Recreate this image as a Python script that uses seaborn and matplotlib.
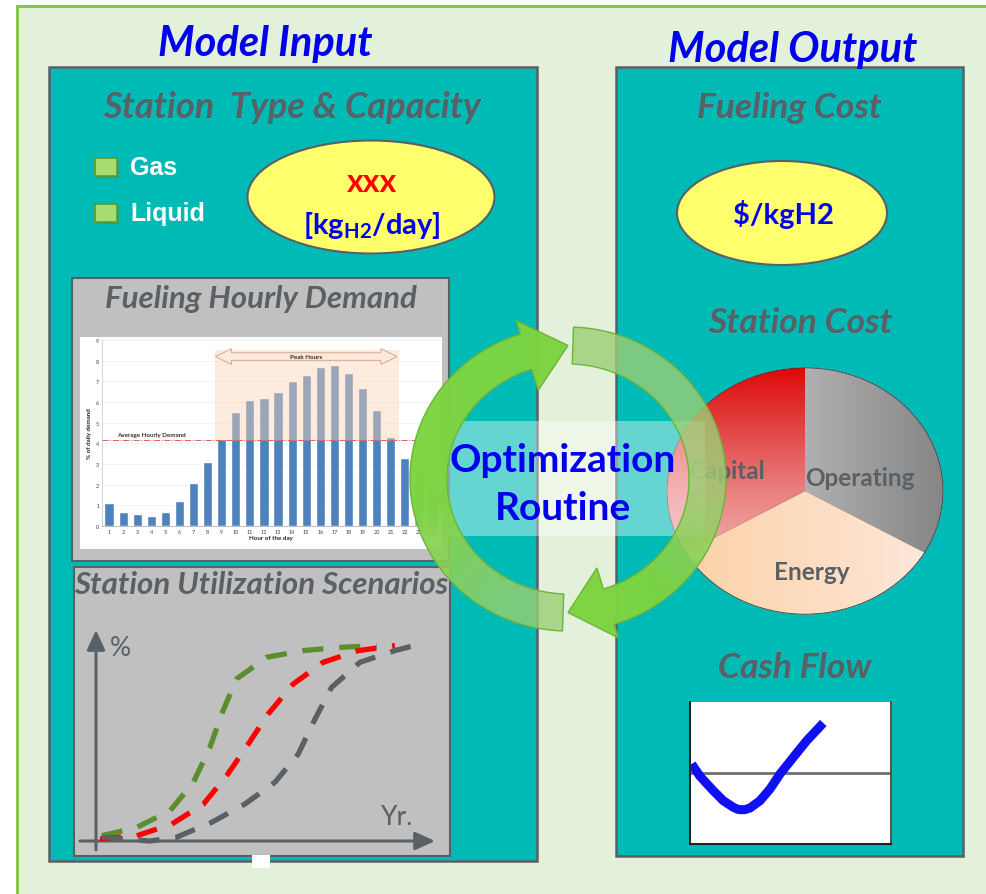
import numpy as np
import matplotlib
matplotlib.use('Agg')
import matplotlib.pyplot as plt
import matplotlib.patches as mpatches
from matplotlib.colors import LinearSegmentedColormap, to_rgb
import seaborn as sns

sns.set_style('white')
plt.rcParams['font.family'] = ['Lato', 'DejaVu Sans']
plt.rcParams['mathtext.default'] = 'regular'

# ---- data ----
hours = list(range(1, 25))
hourly_demand = [1.1, 0.7, 0.6, 0.5, 0.7, 1.2, 2.1, 3.1, 4.2, 5.5, 6.1, 6.2,
                 6.5, 7.0, 7.3, 7.7, 7.8, 7.4, 6.7, 5.6, 4.3, 3.3, 2.6, 1.8]
avg_demand = 4.17
peak_first, peak_last = 9, 21

# station utilization scenarios (% vs years, arbitrary 0-100 scales)
fast_x = [1.7, 12.1, 22.0, 28.9, 33.8, 37.3, 41.7, 50.6, 61.5, 72.9, 83.3]
fast_y = [2.5, 6.5, 14.5, 28.1, 44.8, 60.8, 77.5, 87.9, 91.1, 92.7, 93.5]
mid_x = [1.2, 12.1, 22.5, 31.9, 38.8, 45.2, 51.1, 58.5, 67.4, 77.8, 88.7]
mid_y = [1.0, 2.5, 8.1, 17.7, 31.3, 46.4, 60.8, 75.1, 85.5, 91.1, 93.5]
slow_x = [1.7, 16.0, 23.9, 34.3, 44.2, 53.1, 60.0, 65.0, 69.9, 78.3, 88.7, 93.7]
slow_y = [1.8, 0.0, 1.8, 8.9, 17.7, 28.1, 41.6, 58.4, 73.5, 85.5, 91.1, 93.2]

cost_parts = ['Operating', 'Energy', 'Capital']
cost_share = [1, 1, 1]

cash_x = [1.7, 10, 23.3, 33.3, 43.3, 48.3, 51.7, 55, 60, 70, 80, 90, 103.3, 116.7, 133.3]
cash_y = [9, -3.3, -17.7, -27.7, -34.3, -36.5, -36.7, -36.6, -35, -27.7, -16, -1, 15.7, 32.3, 50]

# ---- colours ----
BG = '#e4f1da'
TEAL = '#00bab5'
DARK = '#596066'
GRAY_BOX = '#c0c0c0'
BLUE = '#0000ee'
YELLOW = '#ffff6e'

W, H = 987, 895
fig = plt.figure(figsize=(W / 100, H / 100), dpi=100)
fig.patch.set_facecolor('white')


def px_axes(x0, y0, x1, y1, zorder=1):
    return fig.add_axes([x0 / W, 1 - y1 / H, (x1 - x0) / W, (y1 - y0) / H], zorder=zorder)


bg = fig.add_axes([0, 0, 1, 1], zorder=0)
bg.set_xlim(0, W)
bg.set_ylim(H, 0)
bg.axis('off')

bg.add_patch(mpatches.Rectangle((17, 7), 1000, 900, facecolor=BG, edgecolor='#7dc242', lw=2))
bg.add_patch(mpatches.Rectangle((49, 68), 488, 794, facecolor=TEAL, edgecolor=DARK, lw=1.8))
bg.add_patch(mpatches.Rectangle((616, 68), 347, 789, facecolor=TEAL, edgecolor=DARK, lw=1.8))

title_kw = dict(color=BLUE, fontweight='bold', fontstyle='italic', ha='center', va='center')
bg.text(265, 44, 'Model Input', fontsize=30, **title_kw)
bg.text(793, 50, 'Model Output', fontsize=30, **title_kw)

head_kw = dict(color=DARK, fontweight='bold', fontstyle='italic', ha='center', va='center')
bg.text(292, 107, 'Station  Type & Capacity', fontsize=26, **head_kw)
bg.text(789, 108, 'Fueling Cost', fontsize=25.5, **head_kw)
bg.text(800, 323, 'Station Cost', fontsize=25.5, **head_kw)
bg.text(795, 668, 'Cash Flow', fontsize=25.5, **head_kw)

# station type options
for yy, lab in [(168, 'Gas'), (214, 'Liquid')]:
    bg.add_patch(mpatches.Rectangle((97, yy - 7), 22, 18, facecolor='#3f7f3a', alpha=0.35, lw=0))
    bg.add_patch(mpatches.Rectangle((95, yy - 9), 22, 18, facecolor='#a6dd72', edgecolor='#5e9a2e', lw=1.2))
    bg.text(130, yy, lab, color='white', fontsize=18, fontweight='bold',
            family=['Liberation Sans', 'DejaVu Sans'], ha='left', va='center')

bg.add_patch(mpatches.Ellipse((371, 198), 247, 113, facecolor=YELLOW, edgecolor=DARK, lw=1.5))
bg.text(372, 182, 'xxx', color='#ff0000', fontsize=23, fontweight='bold', ha='center', va='center')
bg.text(372, 225, '[kg$_{H2}$/day]', color=BLUE, fontsize=21, fontweight='bold', ha='center', va='center')

bg.add_patch(mpatches.Ellipse((782, 214), 210, 104, facecolor=YELLOW, edgecolor=DARK, lw=1.5))
bg.text(783, 214, '$/kgH2', color=BLUE, fontsize=21, fontweight='bold', ha='center', va='center')

# gray panels
bg.add_patch(mpatches.Rectangle((72, 279), 377, 283, facecolor=GRAY_BOX, edgecolor=DARK, lw=1.5))
bg.text(261, 299, 'Fueling Hourly Demand', fontsize=22.5, **head_kw)
bg.add_patch(mpatches.Rectangle((80, 338), 362, 212, facecolor='white', lw=0))

bg.add_patch(mpatches.Rectangle((74, 568), 376, 289, facecolor=GRAY_BOX, edgecolor=DARK, lw=1.5))
bg.text(261, 585, 'Station Utilization Scenarios', fontsize=22.5, **head_kw)
bg.add_patch(mpatches.Rectangle((252, 856), 18, 13, facecolor='white', lw=0))

# ---- hourly demand bar chart ----
ax_bar = px_axes(102, 341, 440, 527)
sns.barplot(x=hours, y=hourly_demand, color='#4f81bd', saturation=1, width=0.65, ax=ax_bar)
for p in ax_bar.patches[22:]:
    p.set_facecolor('#8fb0dc')
ax_bar.set_xlim(-0.5, 23.5)
ax_bar.set_ylim(0, 9)
ax_bar.set_yticks(range(0, 10))
ax_bar.tick_params(labelsize=4, length=0, pad=2, colors='#404040')
ax_bar.set_ylabel('% of daily demand', fontsize=4.5, fontweight='bold', labelpad=3)
ax_bar.set_xlabel('Hour of the day', fontsize=4.5, fontweight='bold', labelpad=1)
ax_bar.set_facecolor('none')
for s in ['top', 'right']:
    ax_bar.spines[s].set_visible(False)
ax_bar.spines['left'].set_color('#d0d0d0')
ax_bar.spines['bottom'].set_color('#b0b0b0')
ax_bar.spines['left'].set_linewidth(0.6)
ax_bar.spines['bottom'].set_linewidth(0.6)
ax_bar.grid(axis='y', color='#eeeeee', lw=0.5)
ax_bar.set_axisbelow(True)

p0, p1 = peak_first - 1.5, peak_last - 0.5
ax_bar.add_patch(mpatches.Rectangle((p0, avg_demand), p1 - p0, 8.5 - avg_demand,
                                    facecolor='#fbd5b5', alpha=0.45, edgecolor='#e3a070',
                                    ls=':', lw=0.6, zorder=3))
ax_bar.axhline(avg_demand, color='#e06060', ls='-.', lw=0.7, zorder=4)
ax_bar.text(0.6, avg_demand + 0.2, 'Average Hourly Demand', fontsize=4.5,
            fontweight='bold', color='#303030', zorder=5)
ya, bh, hh, hl = 8.2, 0.18, 0.38, 1.2
arr = [(p0 + 0.05, ya), (p0 + hl, ya + hh), (p0 + hl, ya + bh), (p1 - hl, ya + bh),
       (p1 - hl, ya + hh), (p1 - 0.05, ya), (p1 - hl, ya - hh), (p1 - hl, ya - bh),
       (p0 + hl, ya - bh), (p0 + hl, ya - hh)]
ax_bar.add_patch(mpatches.Polygon(arr, closed=True, facecolor='#fde9d9',
                                  edgecolor='#c89070', lw=0.5, zorder=5))
ax_bar.text((p0 + p1) / 2, ya, 'Peak Hours', fontsize=4.5, fontweight='bold',
            color='#303030', ha='center', va='center', zorder=6)

# ---- utilization S-curves ----
arrow_kw = dict(arrowstyle='-|>,head_length=1.2,head_width=0.55', color=DARK, lw=2.2,
                shrinkA=0, shrinkB=0)
bg.annotate('', xy=(96, 631), xytext=(96, 851), arrowprops=arrow_kw)
bg.annotate('', xy=(435, 842), xytext=(80, 842), arrowprops=arrow_kw)
bg.text(110, 648, '%', fontsize=19, color=DARK, ha='left', va='center')
bg.text(397, 818, 'Yr.', fontsize=19, color=DARK, ha='center', va='center')

ax_s = px_axes(96, 633, 433, 842)
ax_s.set_xlim(0, 100)
ax_s.set_ylim(0, 100)
ax_s.axis('off')
for xs, ys, c in [(fast_x, fast_y, '#5b8f2d'), (mid_x, mid_y, '#ff0000'), (slow_x, slow_y, DARK)]:
    sns.lineplot(x=xs, y=ys, color=c, lw=3.8, ax=ax_s, sort=False, clip_on=False,
                 solid_joinstyle='round')
    ax_s.lines[-1].set_dashes([4, 3])

# ---- station cost pie ----
ax_pie = px_axes(805 - 139, 492 - 124, 805 + 139, 492 + 124)
wedges, _ = ax_pie.pie(cost_share, startangle=90, counterclock=False, radius=1,
                       colors=['#aaaaaa', '#fddcc0', '#ee8888'])
grad = np.linspace(0, 1, 256)
cmaps = [LinearSegmentedColormap.from_list('op', ['#c6c6c6', '#b0b0b0', '#868686']),
         LinearSegmentedColormap.from_list('en', ['#fcd0a4', '#fddcc0', '#fde9dc']),
         LinearSegmentedColormap.from_list('ca', ['#dd0a0a', '#ea8080', '#f8d2d2'])]
imgs = [grad.reshape(1, -1), grad.reshape(1, -1), grad.reshape(-1, 1)]
for w, cm, g in zip(wedges, cmaps, imgs):
    im = ax_pie.imshow(g, extent=(-1, 1, -1, 1), aspect='auto', cmap=cm, origin='upper', zorder=2)
    im.set_clip_path(w)
ax_pie.pie(cost_share, startangle=90, counterclock=False, radius=1,
           wedgeprops=dict(facecolor='none', edgecolor='#3a3a3a', lw=1.2))
ax_pie.set_aspect('auto')
ax_pie.set_xlim(-1.01, 1.01)
ax_pie.set_ylim(-1.01, 1.01)
ax_pie.axis('off')
for lab, (lx, ly) in zip(cost_parts, [(860, 479), (812, 573), (727, 472)]):
    ax_pie.text(lx / W, 1 - ly / H, lab, transform=fig.transFigure, fontsize=17.5,
                fontweight='bold', color=DARK, ha='center', va='center', zorder=5)

# ---- cash flow ----
ax_c = px_axes(690, 703, 891, 845)
ax_c.set_facecolor('white')
ax_c.axhline(0, color='#707070', lw=2, zorder=1)
sns.lineplot(x=cash_x, y=cash_y, color='#1010f5', lw=6.5, ax=ax_c, sort=False,
             solid_capstyle='butt', solid_joinstyle='round', zorder=2)
ax_c.set_xlim(0, 201)
ax_c.set_ylim(-71, 71)
ax_c.set_xticks([])
ax_c.set_yticks([])
ax_c.spines['top'].set_visible(False)
for s, c in [('left', '#222222'), ('bottom', '#222222'), ('right', '#555555')]:
    ax_c.spines[s].set_color(c)
    ax_c.spines[s].set_linewidth(1.5)

# ---- optimization loop overlay ----
ov = fig.add_axes([0, 0, 1, 1], zorder=5)
ov.set_xlim(0, W)
ov.set_ylim(H, 0)
ov.axis('off')
ov.add_patch(mpatches.Rectangle((448, 422), 257, 115, facecolor='white', alpha=0.4, lw=0))

CX, CY = 568, 480
RXO, RYO, RXI, RYI = 158, 152, 121, 115
RXM, RYM = (RXO + RXI) / 2, (RYO + RYI) / 2
LIGHT, BRIGHT = np.array(to_rgb('#9ccf74')), np.array(to_rgb('#7dd43f'))

# pixel grid for the ring gradient
gx0, gx1, gy0, gy1 = 380, 760, 300, 660
GX, GY = np.meshgrid(np.arange(gx0, gx1) + 0.5, np.arange(gy0, gy1) + 0.5)
GT = np.degrees(np.arctan2(-(GY - CY) / RYM, (GX - CX) / RXM))


def ell(t, rx, ry):
    a = np.radians(t)
    return (CX + rx * np.cos(a), CY - ry * np.sin(a))


def ring_arrow(t_tail, t_base, t_tip, f0, f1):
    ts = np.linspace(t_tail, t_base, 90)
    head = [ell(t_base, RXO + 14, RYO + 14), ell(t_tip, RXM, RYM),
            ell(t_base, RXI - 22, RYI - 22)]
    outline = [ell(t, RXO, RYO) for t in ts] + head + [ell(t, RXI, RYI) for t in ts[::-1]]
    shape = mpatches.Polygon(outline, closed=True, transform=ov.transData)
    frac = ((t_tail - GT) % 360) / (t_tail - t_tip)
    g = np.clip((frac - f0) / (f1 - f0), 0, 1)[..., None]
    rgba = np.concatenate([LIGHT * (1 - g) + BRIGHT * g, 0.8 + 0.18 * g], axis=-1)
    im = ov.imshow(rgba, extent=(gx0, gx1, gy1, gy0), origin='upper', aspect='auto',
                   interpolation='bilinear', zorder=2)
    im.set_clip_path(shape)
    ov.add_patch(mpatches.Polygon(outline, closed=True, facecolor='none',
                                  edgecolor='#6cb43a', lw=1, zorder=3))


ring_arrow(268, 107.5, 90, 0.1, 0.45)
ring_arrow(88, -73, -90, 0.5, 0.8)
ov.set_xlim(0, W)
ov.set_ylim(H, 0)

ov.text(563, 460, 'Optimization', fontsize=28, fontweight='bold', color=BLUE,
        ha='center', va='center', zorder=4)
ov.text(563, 508, 'Routine', fontsize=28, fontweight='bold', color=BLUE,
        ha='center', va='center', zorder=4)

fig.savefig('out.png', dpi=100)
